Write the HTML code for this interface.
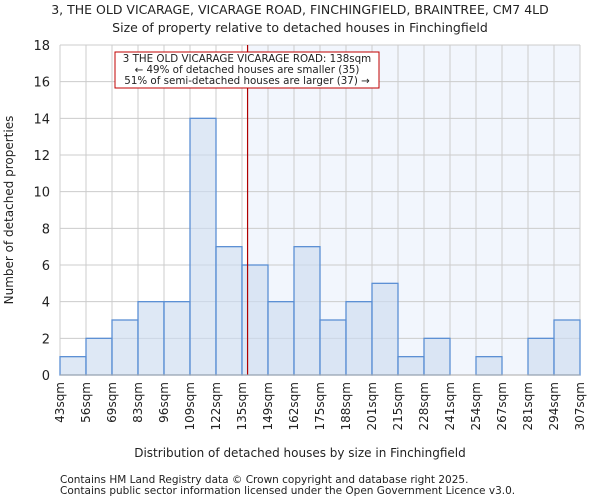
<!DOCTYPE html>
<html><head><meta charset="utf-8"><style>
body{margin:0;background:#fff;font-family:"DejaVu Sans","Liberation Sans",sans-serif;}
svg text{font-family:"DejaVu Sans","Liberation Sans",sans-serif;fill:#222;}
</style></head><body>
<svg id="chart" width="600" height="500" xmlns="http://www.w3.org/2000/svg">
<text x="300" y="14" text-anchor="middle" font-size="12.5">3, THE OLD VICARAGE, VICARAGE ROAD, FINCHINGFIELD, BRAINTREE, CM7 4LD</text>
<text x="300" y="32" text-anchor="middle" font-size="12.5">Size of property relative to detached houses in Finchingfield</text>
<g id="grid"></g><g id="bars"></g><g id="axes"></g>
<text x="300" y="457" text-anchor="middle" font-size="12">Distribution of detached houses by size in Finchingfield</text>
<text transform="translate(13,210) rotate(-90)" text-anchor="middle" font-size="12">Number of detached properties</text>
<text x="60" y="483" font-size="10.5" fill="#444">Contains HM Land Registry data © Crown copyright and database right 2025.</text>
<text x="60" y="494" font-size="10.5" fill="#444">Contains public sector information licensed under the Open Government Licence v3.0.</text>
</svg>
<script>
const binLabels=["43sqm","56sqm","69sqm","83sqm","96sqm","109sqm","122sqm","135sqm","149sqm","162sqm","175sqm","188sqm","201sqm","215sqm","228sqm","241sqm","254sqm","267sqm","281sqm","294sqm","307sqm"];
const counts=[1,2,3,4,4,14,7,6,4,7,3,4,5,1,2,0,1,0,2,3];
const yTicks=[0,2,4,6,8,10,12,14,16,18];
const subjectSize=138;
const binEdges=[43,56,69,83,96,109,122,135,149,162,175,188,201,215,228,241,254,267,281,294,307];
const NS="http://www.w3.org/2000/svg";
const L=60,R=580,T=45,B=375,yMax=18;
const n=counts.length,bw=(R-L)/n;
const xB=i=>L+i*bw;
const y=v=>B-(v/yMax)*(B-T);
function xSize(s){for(let i=0;i<n;i++){if(s>=binEdges[i]&&s<=binEdges[i+1])return xB(i)+(s-binEdges[i])/(binEdges[i+1]-binEdges[i])*bw;}return R;}
function mk(tag,attrs,parent){const e=document.createElementNS(NS,tag);for(const k in attrs)e.setAttribute(k,attrs[k]);parent.appendChild(e);return e;}
const grid=document.getElementById('grid'),bars=document.getElementById('bars'),axes=document.getElementById('axes');
const sx=xSize(subjectSize);
let sh=mk('rect',{x:sx,y:T,width:R-sx,height:B-T,fill:'#f2f6fd'},grid);


for(let i=0;i<=n;i++){let g=mk('line',{x1:xB(i),x2:xB(i),y1:T,y2:B,stroke:'#cccccc','stroke-width':1},grid);

}
yTicks.forEach(v=>{let g=mk('line',{x1:L,x2:R,y1:y(v),y2:y(v),stroke:'#cccccc','stroke-width':1},grid);


let t=mk('text',{x:L-10,y:y(v)+5,'text-anchor':'end','font-size':13},axes);t.textContent=v;

});
counts.forEach((c,i)=>{if(c<=0)return;let r=mk('rect',{x:xB(i),y:y(c),width:bw,height:B-y(c),fill:'rgba(204,220,240,0.65)',stroke:'#5b8fd4','stroke-width':1.3},bars);

});
binLabels.forEach((lb,i)=>{let t=mk('text',{transform:`translate(${xB(i)+4},${382}) rotate(-90)`,'text-anchor':'end','font-size':12},axes);t.textContent=lb;

});
let ax=mk('line',{x1:L,x2:R,y1:B,y2:B,stroke:'#aaaaaa','stroke-width':1},axes);


let ml=mk('line',{x1:sx,x2:sx,y1:T,y2:B,stroke:'#b00000','stroke-width':1.2},bars);


const ann=mk('g',{},bars);


mk('rect',{x:115,y:52,width:264,height:36,fill:'#fff',stroke:'#c00000','stroke-width':1},ann);
["3 THE OLD VICARAGE VICARAGE ROAD: 138sqm","← 49% of detached houses are smaller (35)","51% of semi-detached houses are larger (37) →"].forEach((s,k)=>{let t=mk('text',{x:247,y:62+k*11,'text-anchor':'middle','font-size':10.3},ann);t.textContent=s;

});
</script>
</body></html>
